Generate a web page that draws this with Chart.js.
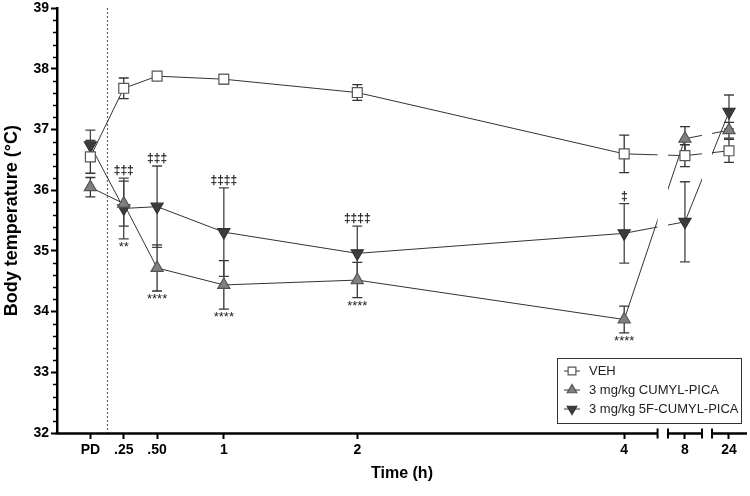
<!DOCTYPE html>
<html>
<head>
<meta charset="utf-8">
<title>Body temperature</title>
<script src="https://cdn.jsdelivr.net/npm/chart.js@4.4.1/dist/chart.umd.min.js"></script>
<style>
  html, body { margin: 0; padding: 0; background: #fff; }
  #wrap { width: 750px; height: 496px; }
</style>
</head>
<body>
<div id="wrap"><canvas id="chart1" width="750" height="496"></canvas></div>
<script>
/////////////////////////////// DATA \\\\\\\\\\\\\\\\\\\\\\\\\\\\\\\

const times = [0, 0.25, 0.5, 1, 2, 4, 8, 24];            // hours, PD = pre-dose
const tickLabels = ['PD', '.25', '.50', '1', '2', '4', '8', '24'];
const seriesNames = ['VEH', '3 mg/kg CUMYL-PICA', '3 mg/kg 5F-CUMYL-PICA'];

const vehMean   = [36.55, 37.68, 37.88, 37.83, 37.61, 36.60, 36.57, 36.65];
const vehErr    = [0.27, 0.17, 0.05, 0.08, 0.13, 0.31, 0.18, 0.19];
const cumylMean = [36.05, 35.78, 34.72, 34.44, 34.52, 33.87, 36.85, 36.99];
const cumylErr  = [0.16, 0.37, 0.38, 0.40, 0.29, 0.22, 0.20, 0.13];
const fiveFMean = [36.74, 35.70, 35.73, 35.31, 34.96, 35.29, 35.48, 37.29];
const fiveFErr  = [0.25, 0.50, 0.67, 0.73, 0.45, 0.49, 0.66, 0.28];

// significance marks, one per time point
const daggerMarks = ['', '‡‡‡', '‡‡‡', '‡‡‡‡', '‡‡‡‡', '‡', '', ''];
const starMarks   = ['', '**', '****', '****', '****', '****', '', ''];

const doseTime = 0.125; // dotted line

/////////////////////////////// BROKEN X AXIS \\\\\\\\\\\\\\\\\\\\\\\\\\\\\\\

// 0-4 h on a linear piece, 8 h and 24 h each on a short piece of their own
const axisPieces = [[-0.25, 4.25], [4.328, 4.583], [4.658, 4.92]];
const brokenAt = { 8: 4.455, 24: 4.785 };
function axisX(t) { return t <= 4.25 ? t : brokenAt[t]; }

const FONT = "'Liberation Sans', Arial, sans-serif";
const PLOT_RIGHT = 747;

function points(means) {
  return times.map((t, i) => ({ x: axisX(t), y: means[i] }));
}

/////////////////////////////// PLUGIN: error bars, breaks, marks, legend \\\\\\\\\\\\\\\\\\\\\\\\\\\\\\\

const errSets = [
  { mean: vehMean, err: vehErr, color: '#333' },
  { mean: cumylMean, err: cumylErr, color: '#333' },
  { mean: fiveFMean, err: fiveFErr, color: '#444' }
];

const extras = {
  id: 'extras',
  // chart.js keeps a few px of right padding for the last label; pin the plot edge
  afterLayout(chart) {
    const xs = chart.scales.x;
    chart.chartArea.right = PLOT_RIGHT;
    chart.chartArea.width = PLOT_RIGHT - chart.chartArea.left;
    xs.right = PLOT_RIGHT;
    xs.width = PLOT_RIGHT - xs.left;
    xs.configure();
  },
  beforeDatasetsDraw(chart) {
    const ctx = chart.ctx;
    const xs = chart.scales.x, ys = chart.scales.y;
    const area = chart.chartArea;

    // dotted dose line
    ctx.save();
    ctx.strokeStyle = '#333';
    ctx.lineWidth = 1.2;
    ctx.setLineDash([1.5, 2.5]);
    const dx = Math.round(xs.getPixelForValue(doseTime)) + 0.5;
    ctx.beginPath();
    ctx.moveTo(dx, area.top);
    ctx.lineTo(dx, area.bottom);
    ctx.stroke();
    ctx.restore();

    // error bars
    ctx.save();
    ctx.lineWidth = 1.3;
    errSets.forEach(s => {
      ctx.strokeStyle = s.color;
      times.forEach((t, i) => {
        const x = xs.getPixelForValue(axisX(t));
        const y1 = ys.getPixelForValue(s.mean[i] + s.err[i]);
        const y2 = ys.getPixelForValue(s.mean[i] - s.err[i]);
        ctx.beginPath();
        ctx.moveTo(x, y1); ctx.lineTo(x, y2);
        ctx.moveTo(x - 5, y1); ctx.lineTo(x + 5, y1);
        ctx.moveTo(x - 5, y2); ctx.lineTo(x + 5, y2);
        ctx.stroke();
      });
    });
    ctx.restore();

    // clip lines to the axis pieces so the breaks show as gaps
    ctx.save();
    ctx.beginPath();
    axisPieces.forEach((p, i) => {
      const a = xs.getPixelForValue(p[0]) - (i === 0 ? 10 : 0);
      const b = xs.getPixelForValue(p[1]);
      ctx.rect(a, area.top - 20, b - a, area.height + 40);
    });
    ctx.clip();
  },
  afterDatasetsDraw(chart) {
    const ctx = chart.ctx;
    ctx.restore();
    const xs = chart.scales.x, ys = chart.scales.y;
    const area = chart.chartArea;

    // significance marks
    ctx.save();
    ctx.fillStyle = '#222';
    ctx.textAlign = 'center';
    times.forEach((t, i) => {
      const x = xs.getPixelForValue(axisX(t));
      if (daggerMarks[i]) {
        ctx.font = 'bold 12px ' + FONT;
        ctx.textBaseline = 'alphabetic';
        ctx.fillText(daggerMarks[i], x, ys.getPixelForValue(fiveFMean[i] + fiveFErr[i]) - 4);
      }
      if (starMarks[i]) {
        const low = Math.min(...errSets.map(s => s.mean[i] - s.err[i]));
        ctx.font = '13px ' + FONT;
        ctx.textBaseline = 'top';
        ctx.fillText(starMarks[i], x, ys.getPixelForValue(low) + 2);
      }
    });
    ctx.restore();

    // minor y ticks
    ctx.save();
    ctx.strokeStyle = '#000';
    ctx.lineWidth = 1.5;
    for (let v = 32; v < 39; v += 1) {
      for (let k = 1; k < 5; k++) {
        const y = Math.round(ys.getPixelForValue(v + k * 0.2)) + 0.5;
        ctx.beginPath();
        ctx.moveTo(area.left, y); ctx.lineTo(area.left - 4, y);
        ctx.stroke();
      }
    }

    // segmented x axis line with end caps
    const yb = area.bottom + 0.5;
    axisPieces.forEach((p, i) => {
      const a = xs.getPixelForValue(p[0]), b = xs.getPixelForValue(p[1]);
      ctx.lineWidth = 2.5;
      ctx.beginPath();
      ctx.moveTo(i === 0 ? a - 1.5 : a, yb); ctx.lineTo(b, yb);
      ctx.stroke();
      ctx.lineWidth = 2;
      ctx.beginPath();
      if (i > 0) { ctx.moveTo(a, yb - 5); ctx.lineTo(a, yb + 5); }
      if (i < axisPieces.length - 1) { ctx.moveTo(b, yb - 5); ctx.lineTo(b, yb + 5); }
      ctx.stroke();
    });
    ctx.restore();

    // legend
    ctx.save();
    ctx.strokeStyle = '#333';
    ctx.lineWidth = 1;
    ctx.strokeRect(557.5, 358.5, 184, 65);
    const rowsY = [371, 390, 409];
    chart.data.datasets.forEach((ds, i) => {
      const y = rowsY[i];
      ctx.strokeStyle = '#333';
      ctx.lineWidth = 1;
      ctx.beginPath();
      ctx.moveTo(564, y); ctx.lineTo(580, y);
      ctx.stroke();
      ctx.fillStyle = ds.pointBackgroundColor;
      ctx.strokeStyle = ds.pointBorderColor;
      ctx.lineWidth = 1.2;
      Chart.helpers.drawPoint(ctx, {
        pointStyle: ds.pointStyle, rotation: ds.pointRotation || 0,
        radius: ds.pointRadius - 1.5, borderWidth: 1.2
      }, 572, y);
      ctx.fillStyle = '#222';
      ctx.font = '13px ' + FONT;
      ctx.textAlign = 'left';
      ctx.textBaseline = 'middle';
      ctx.fillText(ds.label, 589, y);
    });
    ctx.restore();
  }
};

/////////////////////////////// CHART JS \\\\\\\\\\\\\\\\\\\\\\\\\\\\\\\

const data = {
  datasets: [
    {
      label: seriesNames[0], data: points(vehMean),
      borderColor: '#333', borderWidth: 1,
      pointStyle: 'rect', pointRadius: 7,
      pointBackgroundColor: '#fff', pointBorderColor: '#555', pointBorderWidth: 1.2
    },
    {
      label: seriesNames[1], data: points(cumylMean),
      borderColor: '#333', borderWidth: 1,
      pointStyle: 'triangle', pointRadius: 7,
      pointBackgroundColor: '#808080', pointBorderColor: '#555', pointBorderWidth: 1.2
    },
    {
      label: seriesNames[2], data: points(fiveFMean),
      borderColor: '#333', borderWidth: 1,
      pointStyle: 'triangle', pointRotation: 180, pointRadius: 7,
      pointBackgroundColor: '#3c3c3c', pointBorderColor: '#333', pointBorderWidth: 1.2
    }
  ]
};

const config = {
  type: 'line',
  data: data,
  options: {
    responsive: false,
    animation: false,
    layout: { padding: { top: 8, right: 3, left: 0, bottom: 0 } },
    elements: { line: { tension: 0 } },
    plugins: { legend: { display: false }, tooltip: { enabled: false } },
    scales: {
      x: {
        type: 'linear', min: -0.25, max: 4.92,
        afterBuildTicks: s => { s.ticks = times.map(t => ({ value: axisX(t) })); },
        afterFit: s => { s.height = 63; s.paddingLeft = 0; s.paddingRight = 0; },
        ticks: {
          autoSkip: false, maxRotation: 0, padding: 3, color: '#000',
          font: { family: FONT, weight: 'bold', size: 14 },
          callback: (v, i) => tickLabels[i]
        },
        grid: { drawOnChartArea: false, tickLength: 6, tickWidth: 2, tickColor: '#000' },
        border: { display: false },
        title: {
          display: true, text: 'Time (h)', color: '#000',
          font: { family: FONT, weight: 'bold', size: 16 },
          padding: { top: 0, bottom: 13 }
        }
      },
      y: {
        min: 32, max: 39,
        afterFit: s => { s.width = 57; s.paddingTop = 0; s.paddingBottom = 0; },
        ticks: {
          stepSize: 1, padding: 2, color: '#000',
          font: { family: FONT, weight: 'bold', size: 14 }
        },
        grid: { drawOnChartArea: false, tickLength: 6, tickWidth: 2, tickColor: '#000' },
        border: { color: '#000', width: 2.5 },
        title: {
          display: true, text: 'Body temperature (°C)', color: '#000',
          font: { family: FONT, weight: 'bold', size: 18 },
          padding: { top: 1, bottom: 0 }
        }
      }
    }
  },
  plugins: [extras]
};

const myChart = new Chart(document.getElementById('chart1'), config);
</script>
</body>
</html>
